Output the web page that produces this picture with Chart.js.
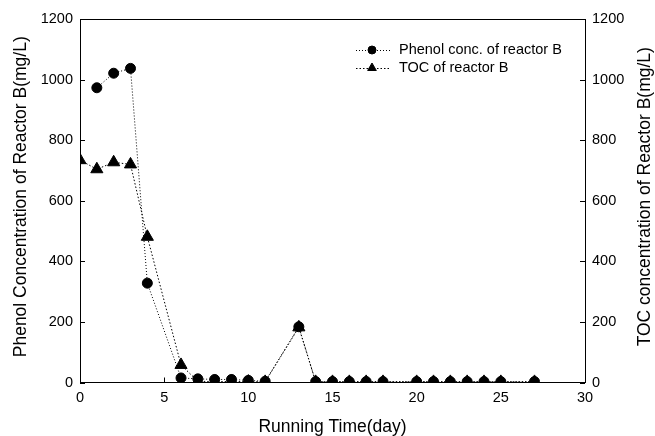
<!DOCTYPE html>
<html>
<head>
<meta charset="utf-8">
<script src="https://cdn.jsdelivr.net/npm/chart.js@4"></script>
<style>
  html, body { margin: 0; padding: 0; background: #fff; }
  #wrap { width: 655px; height: 436px; position: relative; }
</style>
</head>
<body>
<div id="wrap"><canvas id="c" width="655" height="436"></canvas></div>
<script>
// Running time (day) for each sampling
const phenolDays = [1, 2, 3, 4, 6, 7, 8, 9, 10, 11, 13, 14, 15, 16, 17, 18, 20, 21, 22, 23, 24, 25, 27];
const phenolConc = [973, 1021, 1037, 328, 15, 12, 10, 10, 7, 4, 184, 3, 3, 3, 3, 3, 3, 3, 3, 3, 3, 3, 3];

const tocDays = [0, 1, 2, 3, 4, 6, 7, 8, 9, 10, 11, 13, 14, 15, 16, 17, 18, 20, 21, 22, 23, 24, 25, 27];
const tocConc = [734, 704, 727, 720, 481, 58, 4, 3, 3, 3, 2, 182, 2, 2, 2, 2, 2, 2, 2, 2, 2, 2, 2, 2];

const xTicks = [0, 5, 10, 15, 20, 25, 30];
const yTicks = [0, 200, 400, 600, 800, 1000, 1200];

const seriesNames = ['Phenol conc. of reactor B', 'TOC of reactor B'];
const xTitle = 'Running Time(day)';
const yLeftTitle = 'Phenol Concentration of Reactor B(mg/L)';
const yRightTitle = 'TOC concentration of Reactor B(mg/L)';

const FONT = '"Liberation Sans", Arial, sans-serif';

const toPoints = (xs, ys) => xs.map((x, i) => ({ x: x, y: ys[i] }));

// Inward tick marks, closing top frame line, axis titles and legend
const decorations = {
  id: 'decorations',
  afterDraw(chart) {
    const ctx = chart.ctx;
    const a = chart.chartArea;
    const sx = chart.scales.x, sy = chart.scales.y, sy1 = chart.scales.y1;
    ctx.save();
    ctx.strokeStyle = '#000';
    ctx.lineWidth = 1;
    ctx.beginPath();
    // top frame
    ctx.moveTo(a.left, a.top + 0.5);
    ctx.lineTo(a.right, a.top + 0.5);
    const tl = 5;
    xTicks.forEach(v => {
      const px = Math.round(sx.getPixelForValue(v)) + 0.5;
      ctx.moveTo(px, a.bottom);
      ctx.lineTo(px, a.bottom - tl);
    });
    yTicks.forEach(v => {
      const py = Math.round(sy.getPixelForValue(v)) + 0.5;
      ctx.moveTo(a.left, py);
      ctx.lineTo(a.left + tl, py);
      const py1 = Math.round(sy1.getPixelForValue(v)) + 0.5;
      ctx.moveTo(a.right, py1);
      ctx.lineTo(a.right - tl, py1);
    });
    ctx.stroke();

    // axis titles
    ctx.fillStyle = '#000';
    ctx.font = '17.5px ' + FONT;
    ctx.textAlign = 'center';
    ctx.textBaseline = 'middle';
    ctx.fillText(xTitle, (a.left + a.right) / 2, 427);
    const midY = (a.top + a.bottom) / 2 - 4;
    ctx.save();
    ctx.translate(21, midY);
    ctx.rotate(-Math.PI / 2);
    ctx.fillText(yLeftTitle, 0, 0);
    ctx.restore();
    ctx.save();
    ctx.translate(645, midY);
    ctx.rotate(-Math.PI / 2);
    ctx.fillText(yRightTitle, 0, 0);
    ctx.restore();

    // legend
    const rows = [50, 68];
    chart.data.datasets.forEach((ds, i) => {
      const y = rows[i];
      ctx.save();
      ctx.strokeStyle = '#000';
      ctx.lineWidth = 1;
      ctx.setLineDash(ds.borderDash);
      ctx.beginPath();
      ctx.moveTo(356, y + 0.5);
      ctx.lineTo(391, y + 0.5);
      ctx.stroke();
      ctx.restore();
      ctx.save();
      ctx.fillStyle = '#000';
      ctx.strokeStyle = '#000';
      Chart.helpers.drawPoint(ctx, { pointStyle: ds.pointStyle, radius: ds.pointStyle === 'triangle' ? 5 : 4, borderWidth: 1, rotation: 0 }, 372, y);
      ctx.restore();
      ctx.fillStyle = '#000';
      ctx.font = '14.5px ' + FONT;
      ctx.textAlign = 'left';
      ctx.textBaseline = 'middle';
      ctx.fillText(ds.label, 399, y);
    });
    ctx.restore();
  }
};

const yScale = (position, width) => ({
  type: 'linear',
  position: position,
  min: 0,
  max: 1200,
  grid: { display: false, drawTicks: false },
  border: { display: true, color: '#000', width: 1 },
  ticks: {
    stepSize: 200,
    padding: 7,
    color: '#000',
    font: { family: FONT, size: 14.5 },
    callback: v => String(v)
  },
  afterFit(scale) { scale.width = width; }
});

new Chart(document.getElementById('c'), {
  type: 'line',
  data: {
    datasets: [
      {
        label: seriesNames[0],
        data: toPoints(phenolDays, phenolConc),
        yAxisID: 'y',
        borderColor: '#000',
        backgroundColor: '#000',
        borderWidth: 1,
        borderDash: [1, 2],
        pointStyle: 'circle',
        pointRadius: 5,
        pointBorderWidth: 1,
        tension: 0
      },
      {
        label: seriesNames[1],
        data: toPoints(tocDays, tocConc),
        yAxisID: 'y1',
        borderColor: '#000',
        backgroundColor: '#000',
        borderWidth: 1,
        borderDash: [1.5, 2],
        pointStyle: 'triangle',
        pointRadius: 7,
        pointBorderWidth: 1,
        tension: 0
      }
    ]
  },
  options: {
    responsive: false,
    animation: false,
    devicePixelRatio: 1,
    layout: { padding: { top: 19, left: 0, right: 0, bottom: 0 } },
    plugins: {
      legend: { display: false },
      tooltip: { enabled: false }
    },
    scales: {
      x: {
        type: 'linear',
        position: 'bottom',
        min: 0,
        max: 30,
        grid: { display: false, drawTicks: false },
        border: { display: true, color: '#000', width: 1 },
        ticks: {
          stepSize: 5,
          padding: 7,
          color: '#000',
          font: { family: FONT, size: 14.5 },
          callback: v => String(v)
        },
        afterFit(scale) { scale.height = 53.5; }
      },
      y: yScale('left', 80),
      y1: yScale('right', 70)
    }
  },
  plugins: [decorations]
});
</script>
</body>
</html>
